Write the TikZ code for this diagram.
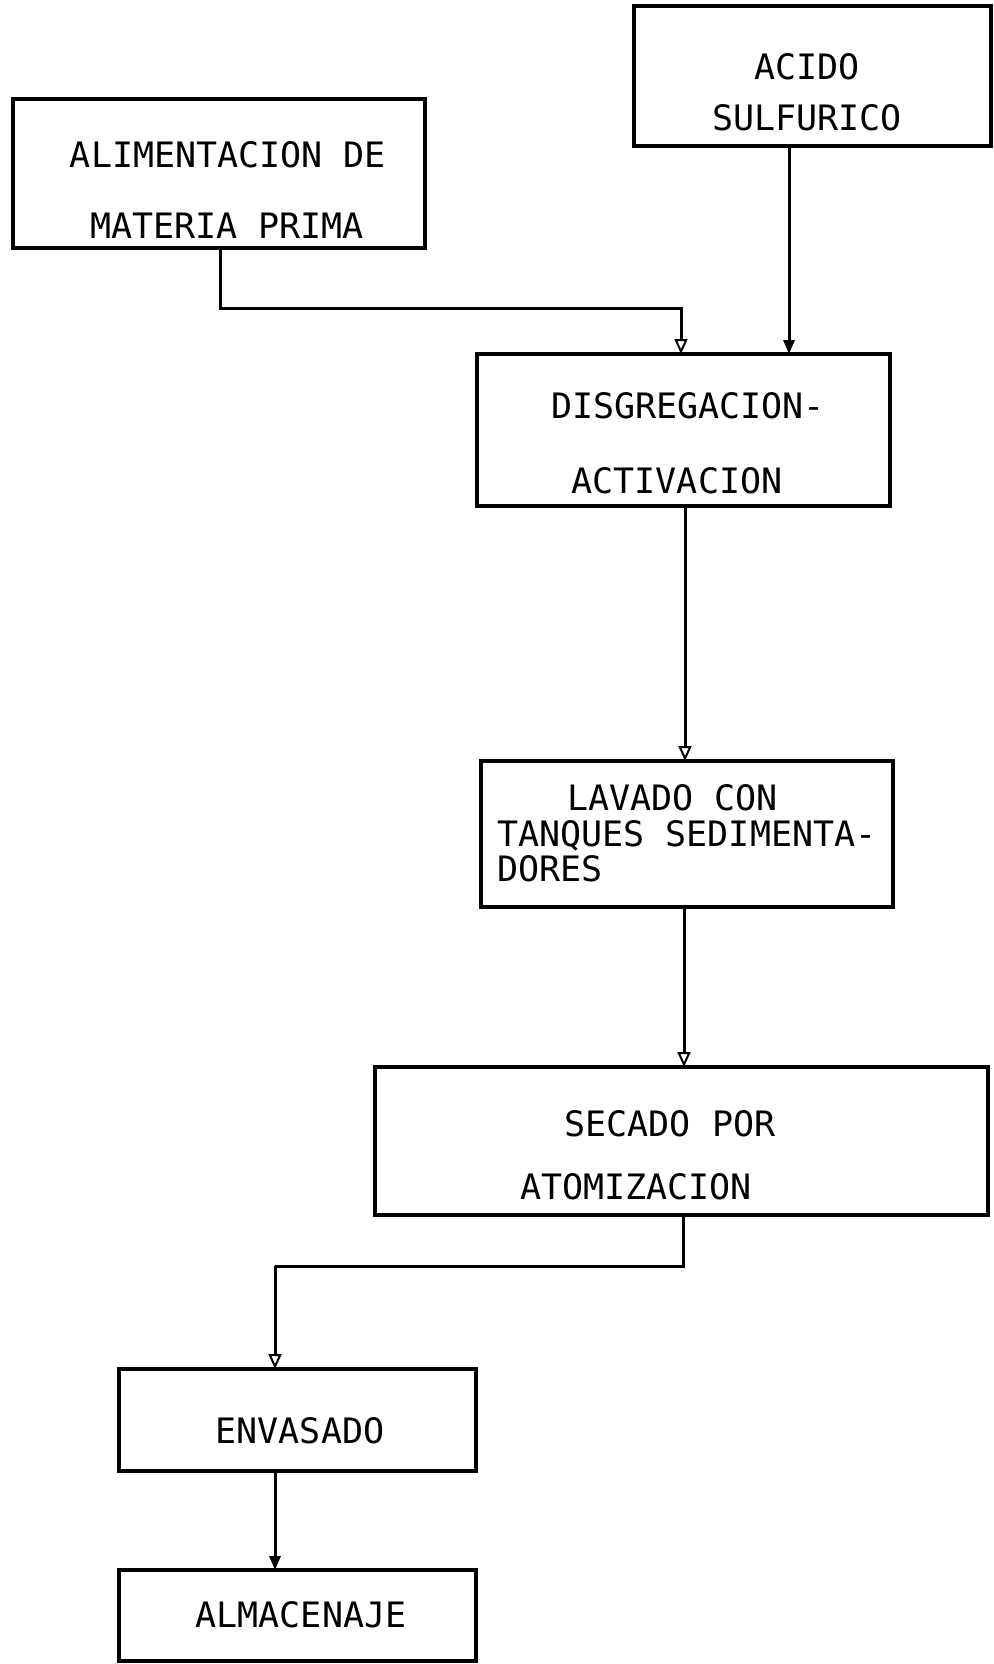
\documentclass[tikz,border=0pt]{standalone}
\usepackage{fontspec}
\newfontfamily\tw{DejaVu Sans Mono}
\usetikzlibrary{arrows.meta}
\begin{document}
\begin{tikzpicture}[x=1pt,y=-1pt,
  box/.style={draw=black,line width=3.4pt,rectangle,inner sep=0pt,outer sep=0pt},
  txt/.style={inner sep=0pt,font=\tw\fontsize{35}{35}\selectfont,text=black},
  conn/.style={draw=black,line width=3pt,line join=miter},
  tipopen/.style={conn,-{Triangle[open,length=15pt,width=13pt,line width=2pt]}},
  tipfill/.style={conn,-{Triangle[length=14pt,width=11pt]}}]
\useasboundingbox[fill=white] (0,0) rectangle (993,1664);
% boxes
\node[box,minimum width=412pt,minimum height=149pt] (b1) at (219,173.5) {};
\node[box,minimum width=357pt,minimum height=140pt] (b2) at (812.5,76) {};
\node[box,minimum width=413pt,minimum height=152pt] (b3) at (683.5,430) {};
\node[box,minimum width=412pt,minimum height=146pt] (b4) at (687,834) {};
\node[box,minimum width=613pt,minimum height=148pt] (b5) at (681.5,1141) {};
\node[box,minimum width=357pt,minimum height=102pt] (b6) at (297.5,1420) {};
\node[box,minimum width=357pt,minimum height=91pt] (b7) at (297.5,1615.5) {};
% texts
\node[txt,anchor=base] (t1a) at (228,168) {ALIMENTACION DE};
\node[txt,anchor=base] (t1b) at (227,238) {MATERIA PRIMA};
\node[txt,anchor=base] (t2a) at (807,80) {ACIDO};
\node[txt,anchor=base] (t2b) at (807,131) {SULFURICO};
\node[txt,anchor=base] (t3a) at (688,418) {DISGREGACION-};
\node[txt,anchor=base] (t3b) at (677,493) {ACTIVACION};
\node[txt,anchor=base west] (t4a) at (567,810) {LAVADO CON};
\node[txt,anchor=base west] (t4b) at (497,846) {TANQUES SEDIMENTA-};
\node[txt,anchor=base west] (t4c) at (497,881) {DORES};
\node[txt,anchor=base] (t5a) at (670,1136) {SECADO POR};
\node[txt,anchor=base] (t5b) at (636,1199) {ATOMIZACION};
\node[txt,anchor=base] (t6) at (300,1443) {ENVASADO};
\node[txt,anchor=base] (t7) at (301,1627) {ALMACENAJE};
% connectors
\coordinate (k1) at (681,308);
\coordinate (k5) at (683,1266);
\coordinate (k5b) at (275,1266);
\draw[tipopen] (b1.south -| 220,0) |- (k1) -- (b3.north -| k1);
\draw[tipfill] (b2.south -| 789,0) -- (b3.north -| 789,0);
\draw[tipopen] (b3.south -| 685,0) -- (b4.north -| 685,0);
\draw[tipopen] (b4.south -| 684,0) -- (b5.north -| 684,0);
\draw[conn] (b5.south -| k5) -- (k5) -- (k5b);
\draw[tipopen] (k5b) -- (b6.north -| k5b);
\draw[tipfill] (b6.south -| 275,0) -- (b7.north -| 275,0);
\end{tikzpicture}
\end{document}
